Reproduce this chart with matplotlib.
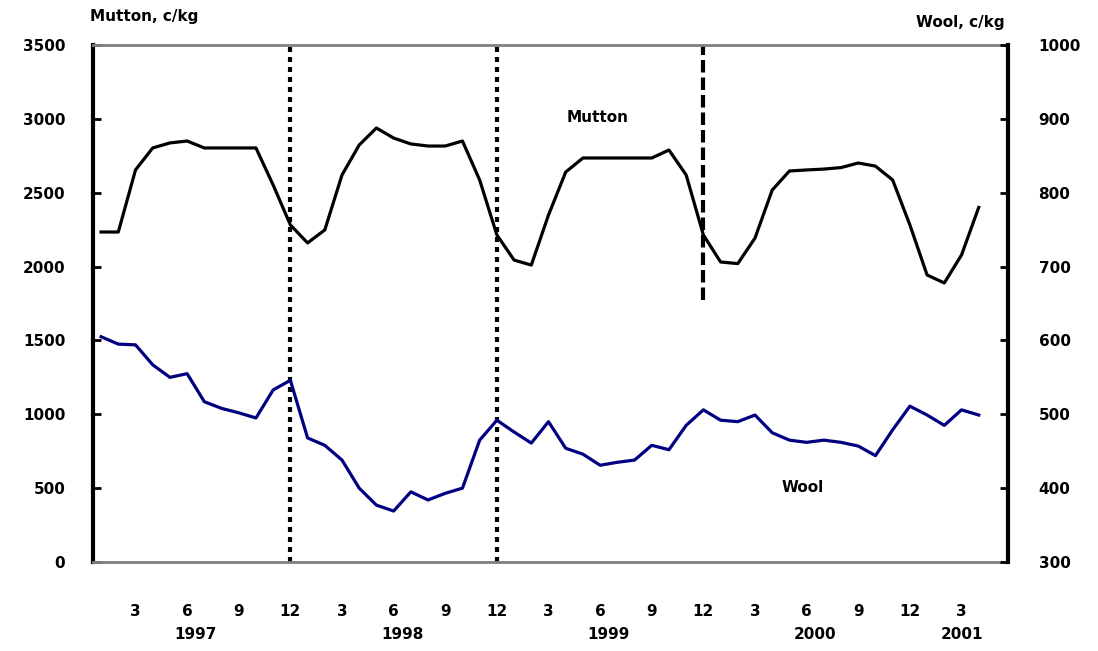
import numpy as np
import matplotlib
matplotlib.use("Agg")
import matplotlib.pyplot as plt
import matplotlib.transforms as mtransforms

# month index: 1 = Jan 1997
months = np.arange(1, 53)

black_vals = [2234, 2234, 2654, 2803, 2837, 2850, 2803, 2803, 2803, 2803, 2552, 2282,
              2160, 2248, 2620, 2823, 2938, 2870, 2830, 2816, 2816, 2850, 2586, 2214,
              2044, 2010, 2349, 2640, 2735, 2735, 2735, 2735, 2735, 2789, 2620, 2214,
              2031, 2020, 2193, 2518, 2647, 2654, 2660, 2670, 2701, 2680, 2586, 2282,
              1943, 1889, 2078, 2400]

blue_vals = [605, 595, 594, 567, 550, 555, 517, 508, 502, 495, 533, 546,
             468, 458, 438, 400, 377, 369, 395, 384, 393, 400, 465, 492,
             476, 461, 490, 454, 446, 431, 435, 438, 458, 452, 485, 506,
             492, 490, 499, 475, 465, 462, 465, 462, 457, 444, 479, 511,
             499, 485, 506, 499]

month_ticks = [3, 6, 9, 12, 15, 18, 21, 24, 27, 30, 33, 36, 39, 42, 45, 48, 51]
month_labels = ["3", "6", "9", "12"] * 4 + ["3"]
year_pos = [6.5, 18.5, 30.5, 42.5, 51.0]
year_labels = ["1997", "1998", "1999", "2000", "2001"]
break_months = [12, 24, 36]

left_title = "Mutton, c/kg"
right_title = "Wool, c/kg"
black_name = "Mutton"
blue_name = "Wool"

plt.rcParams['font.family'] = ['DejaVu Sans']
plt.rcParams['font.weight'] = 'bold'

fig = plt.figure(figsize=(10.98, 6.51), dpi=100)
ax = fig.add_axes([0.0847, 0.1367, 0.918 - 0.0847, 0.9309 - 0.1367])
ax2 = ax.twinx()

ax.plot(months, black_vals, color='black', lw=2.3, zorder=3)
ax2.plot(months, blue_vals, color='#000080', lw=2.3, zorder=3)

ax.set_xlim(0.53, 53.7)
ax.set_ylim(0, 3500)
ax2.set_ylim(300, 1000)
ax.set_yticks(np.arange(0, 3501, 500))
ax2.set_yticks(np.arange(300, 1001, 100))

# year-end markers
ax.axvline(break_months[0], color='black', lw=3, ls=(0, (1.2, 1.2)), zorder=2)
ax.axvline(break_months[1], color='black', lw=3, ls=(0, (1.2, 1.2)), zorder=2)
ax.axvline(break_months[2], ymin=0.507, ymax=1, color='black', lw=3,
           ls=(0, (3, 1.2)), zorder=2)

ax.set_xticks(month_ticks)
ax.set_xticklabels(month_labels)
ax.tick_params(axis='x', length=0, pad=30, labelsize=11)
ax.tick_params(axis='y', direction='in', length=6, width=2, pad=20, labelsize=11)
ax2.tick_params(axis='y', direction='in', length=6, width=2, pad=22, labelsize=11)
for lab in ax.get_xticklabels() + ax.get_yticklabels() + ax2.get_yticklabels():
    lab.set_fontweight('bold')

trans = mtransforms.blended_transform_factory(ax.transData, ax.transAxes)
for x, t in zip(year_pos, year_labels):
    ax.text(x, -0.141, t, transform=trans, ha='center', va='center',
            fontsize=11, fontweight='bold')

for sp in ['top', 'bottom']:
    ax.spines[sp].set_color('#808080')
    ax.spines[sp].set_linewidth(2)
    ax2.spines[sp].set_visible(False)
ax.spines['left'].set_linewidth(3)
ax2.spines['right'].set_linewidth(3)
ax2.spines['left'].set_visible(False)
ax.spines['right'].set_visible(False)

fig.text(90 / 1098, 1 - 16 / 651, left_title, ha='left', va='center',
         fontsize=11, fontweight='bold')
fig.text(1005 / 1098, 1 - 22 / 651, right_title, ha='right', va='center',
         fontsize=11, fontweight='bold')
fig.text(567 / 1098, 1 - 118 / 651, black_name, ha='left', va='center',
         fontsize=11, fontweight='bold')
fig.text(782 / 1098, 1 - 487 / 651, blue_name, ha='left', va='center',
         fontsize=11, fontweight='bold')

fig.savefig("out.png", dpi=100)
